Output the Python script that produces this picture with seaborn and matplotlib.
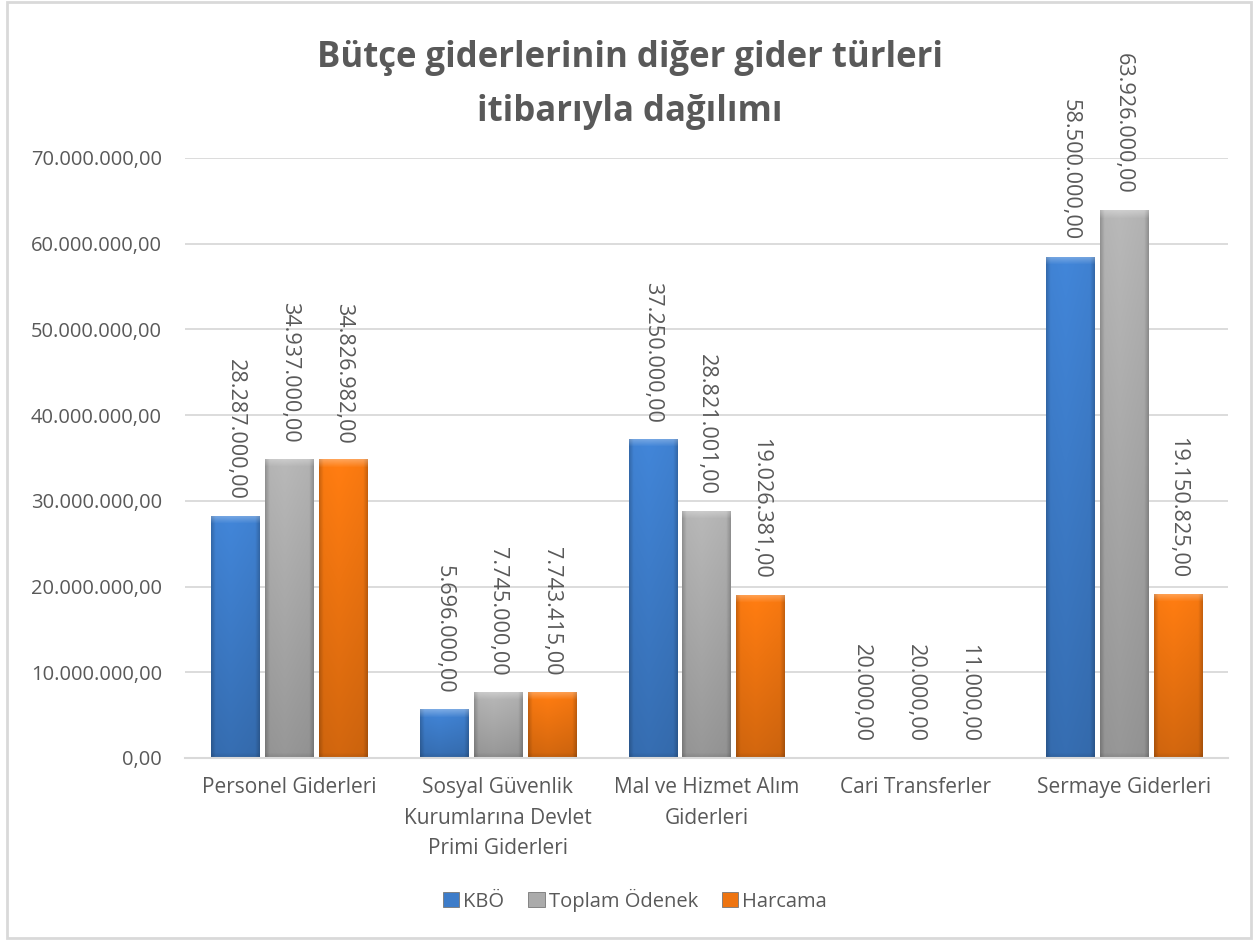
import numpy as np
import pandas as pd
import matplotlib
matplotlib.use("Agg")
import matplotlib.pyplot as plt
import seaborn as sns
from matplotlib.patches import Rectangle
from matplotlib.colors import to_rgb

categories = ["Personel Giderleri",
              "Sosyal Güvenlik\nKurumlarına Devlet\nPrimi Giderleri",
              "Mal ve Hizmet Alım\nGiderleri",
              "Cari Transferler",
              "Sermaye Giderleri"]
series = ["KBÖ", "Toplam Ödenek", "Harcama"]
kbo = [28287000.00, 5696000.00, 37250000.00, 20000.00, 58500000.00]
toplam = [34937000.00, 7745000.00, 28821001.00, 20000.00, 63926000.00]
harcama = [34826982.00, 7743415.00, 19026381.00, 11000.00, 19150825.00]
yticks = [0, 10e6, 20e6, 30e6, 40e6, 50e6, 60e6, 70e6]
title = "Bütçe giderlerinin diğer gider türleri\nitibarıyla dağılımı"

colors = {"KBÖ": "#3D7CC9", "Toplam Ödenek": "#ABABAB", "Harcama": "#EE7410"}

def tr_fmt(v):
    s = f"{v:,.2f}"
    return s.replace(",", "X").replace(".", ",").replace("X", ".")

df = pd.DataFrame({
    "cat": categories * 3,
    "series": [s for s in series for _ in categories],
    "value": kbo + toplam + harcama,
})

sns.set_theme(style="white")
plt.rcParams["font.family"] = ["Open Sans", "DejaVu Sans"]
TXT = "#595959"

fig = plt.figure(figsize=(12.59, 9.40), dpi=100)
AX_L, AX_R, AX_T, AX_B = 185, 1228, 158, 758
ax = fig.add_axes([AX_L/1259, 1-AX_B/940, (AX_R-AX_L)/1259, (AX_B-AX_T)/940])

sns.barplot(data=df, x="cat", y="value", hue="series", hue_order=series,
            palette=colors, ax=ax, width=0.776, gap=0.11, saturation=1,
            edgecolor="none", linewidth=0, legend=True)

ax.set_ylim(0, 70e6)
ax.set_xlim(-0.5, 4.5)
px_per_unit = (AX_B - AX_T) / 70e6

# bevel-like gradient overlay
def shade(base, hpx, nx=48):
    r = np.array(to_rgb(base))
    ny = max(int(round(hpx)), 2)
    xs = np.linspace(0, 1, nx)
    ys = np.linspace(1, 0, ny)  # row 0 = top
    edge = np.clip((0.09 - np.minimum(xs, 1 - xs)) / 0.09, 0, 1)
    hx = (1.0 - 0.18 * edge) * (1.04 - 0.07 * np.abs(xs - 0.4))
    vy = 0.85 + 0.19 * ys
    f = vy[:, None] * hx[None, :]
    img = r[None, None, :] * f[:, :, None]
    # soft lighter top bevel
    band = min(8, ny // 3)
    for i in range(band):
        a = 0.30 * (1 - i / band)
        img[i] = img[i] * (1 - a) + a
    # slight darker bottom bevel
    bb = min(5, ny // 4)
    for i in range(bb):
        a = 0.10 * (1 - i / bb)
        img[ny - 1 - i] = img[ny - 1 - i] * (1 - a)
    return np.clip(img, 0, 1)

for cont, s in zip(ax.containers, series):
    for p in cont.patches:
        h = p.get_height()
        if h <= 0:
            continue
        x0, w = p.get_x(), p.get_width()
        im = ax.imshow(shade(colors[s], h * px_per_unit), extent=[x0, x0 + w, 0, h],
                       aspect="auto", zorder=p.get_zorder() + 0.1,
                       interpolation="bilinear")
        im.set_clip_path(p)
    ax.bar_label(cont, labels=[tr_fmt(v) for v in cont.datavalues],
                 rotation=-90, padding=11.5, fontsize=15.6, color=TXT)

ax.set_ylim(0, 70e6)
ax.set_xlim(-0.5, 4.5)

ax.set_yticks(yticks)
ax.set_yticklabels([tr_fmt(v) for v in yticks])
ax.tick_params(axis="y", labelsize=14.5, labelcolor=TXT, length=0, pad=16.5)
ax.tick_params(axis="x", labelsize=15, labelcolor=TXT, length=0, pad=14)
for lab in ax.get_xticklabels():
    lab.set_linespacing(1.58)
ax.set_xlabel("")
ax.set_ylabel("")
ax.grid(axis="y", color="#D9D9D9", linewidth=1.3)
ax.set_axisbelow(True)
for sp in ["left", "right", "top"]:
    ax.spines[sp].set_visible(False)
ax.spines["bottom"].set_color("#D9D9D9")
ax.spines["bottom"].set_linewidth(1.5)

ax.legend_.remove()
handles = [Rectangle((0, 0), 1, 1, facecolor=colors[s], edgecolor="#777777", linewidth=0.6) for s in series]
fig.legend(handles, series, loc="center", bbox_to_anchor=(635/1259, 1-900/940),
           ncol=3, frameon=False, fontsize=14.5, labelcolor=TXT,
           handlelength=0.8, handleheight=0.7, handletextpad=0.2, columnspacing=1.2)

fig.text(630/1259, 1-85/940, title, ha="center", va="center", fontsize=25,
         fontweight="bold", color=TXT, linespacing=1.64)

fig.patches.append(Rectangle((7/1259, 2/940), 1244/1259, 936/940, transform=fig.transFigure,
                             fill=False, edgecolor="#D9D9D9", linewidth=2))

fig.savefig("out.png", dpi=100, facecolor="white")
